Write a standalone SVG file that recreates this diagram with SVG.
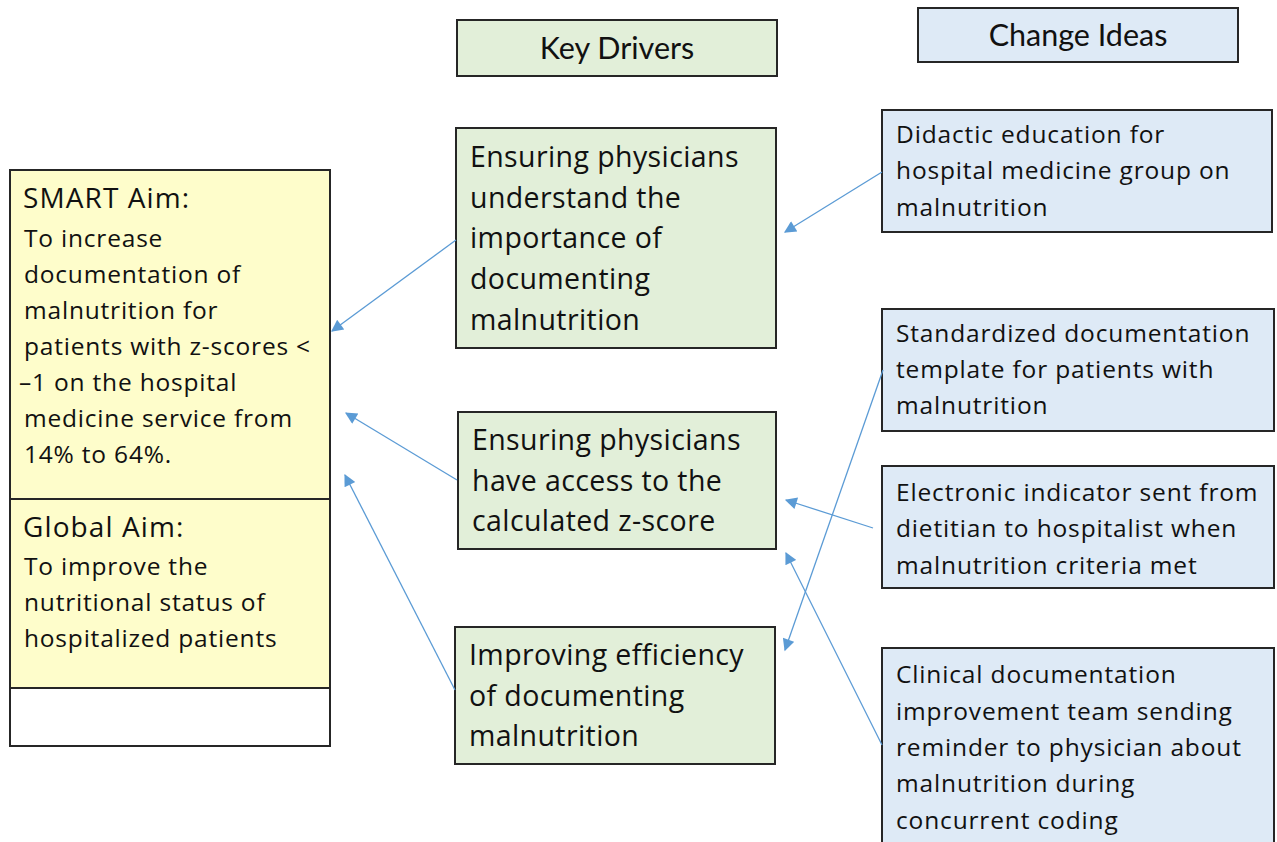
<svg xmlns="http://www.w3.org/2000/svg" width="1277" height="842" viewBox="0 0 1277 842">
<style>
.box{stroke:#262626;stroke-width:2}
.yel{fill:#fefdcb}
.grn{fill:#e2efd9}
.blu{fill:#deeaf6}
.t{font-family:"Open Sans","Noto Sans",sans-serif;fill:#111}
.s{font-size:24.5px;letter-spacing:0.8px}
.d{font-size:28.5px;letter-spacing:0.4px}
.c{font-size:24.5px;letter-spacing:0.85px}
.ti{font-size:28px;letter-spacing:1.1px}
.h{font-family:Lato,"Open Sans",sans-serif;font-size:30.5px;fill:#111;text-anchor:middle}
.ln{stroke:#5b9bd5;stroke-width:1.3;fill:none;marker-end:url(#ah)}
</style>
<defs>
<marker id="ah" viewBox="0 0 10 10" refX="9" refY="5" markerWidth="14" markerHeight="12" markerUnits="userSpaceOnUse" orient="auto">
<path d="M0,0 L10,5 L0,10 Z" fill="#5b9bd5"/>
</marker>
</defs>
<rect width="1277" height="842" fill="#fff"/>
<g id="hdr-drivers">
<rect class="box grn" x="457" y="20" width="320" height="56"/>
<text class="h" x="617" y="59">Key Drivers</text>
</g>
<g id="hdr-ideas">
<rect class="box blu" x="918" y="8" width="320" height="54"/>
<text class="h" x="1078" y="46">Change Ideas</text>
</g>
<g id="aim">
<rect class="box yel" x="10" y="170" width="320" height="329"/>
<rect class="box yel" x="10" y="499" width="320" height="189"/>
<rect class="box" x="10" y="688" width="320" height="58" fill="#fff"/>
<text class="t ti" x="23" y="208">SMART Aim:</text>
<text class="t s"><tspan x="24" y="247">To increase</tspan><tspan x="24" y="283">documentation of</tspan><tspan x="24" y="319">malnutrition for</tspan><tspan x="24" y="355">patients with z-scores &lt;</tspan><tspan x="19" y="391">–1 on the hospital</tspan><tspan x="24" y="427">medicine service from</tspan><tspan x="24" y="463">14% to 64%.</tspan></text>
<text class="t ti" x="23" y="537">Global Aim:</text>
<text class="t s"><tspan x="24" y="575">To improve the</tspan><tspan x="24" y="611">nutritional status of</tspan><tspan x="24" y="647">hospitalized patients</tspan></text>
</g>
<g id="driver1">
<rect class="box grn" x="456" y="128" width="320" height="220"/>
<text class="t d"><tspan x="470" y="167">Ensuring physicians</tspan><tspan x="470" y="208">understand the</tspan><tspan x="470" y="248">importance of</tspan><tspan x="470" y="289">documenting</tspan><tspan x="470" y="330">malnutrition</tspan></text>
</g>
<g id="driver2">
<rect class="box grn" x="458" y="412" width="318" height="137"/>
<text class="t d"><tspan x="472" y="450">Ensuring physicians</tspan><tspan x="472" y="491">have access to the</tspan><tspan x="472" y="531">calculated z-score</tspan></text>
</g>
<g id="driver3">
<rect class="box grn" x="455" y="627" width="320" height="137"/>
<text class="t d"><tspan x="469" y="665">Improving efficiency</tspan><tspan x="469" y="706">of documenting</tspan><tspan x="469" y="746">malnutrition</tspan></text>
</g>
<g id="idea1">
<rect class="box blu" x="882" y="110" width="390" height="122"/>
<text class="t c"><tspan x="896" y="143">Didactic education for</tspan><tspan x="896" y="179">hospital medicine group on</tspan><tspan x="896" y="216">malnutrition</tspan></text>
</g>
<g id="idea2">
<rect class="box blu" x="882" y="309" width="392" height="122"/>
<text class="t c"><tspan x="896" y="342">Standardized documentation</tspan><tspan x="896" y="378">template for patients with</tspan><tspan x="896" y="414">malnutrition</tspan></text>
</g>
<g id="idea3">
<rect class="box blu" x="882" y="466" width="392" height="122"/>
<text class="t c"><tspan x="896" y="501">Electronic indicator sent from</tspan><tspan x="896" y="537">dietitian to hospitalist when</tspan><tspan x="896" y="574">malnutrition criteria met</tspan></text>
</g>
<g id="idea4">
<rect class="box blu" x="882" y="648" width="392" height="210"/>
<text class="t c"><tspan x="896" y="683">Clinical documentation</tspan><tspan x="896" y="720">improvement team sending</tspan><tspan x="896" y="756">reminder to physician about</tspan><tspan x="896" y="792">malnutrition during</tspan><tspan x="896" y="829">concurrent coding</tspan></text>
</g>
<g id="connectors">
<line class="ln" x1="456" y1="240" x2="332" y2="331"/>
<line class="ln" x1="457" y1="480" x2="346" y2="413"/>
<line class="ln" x1="455" y1="690" x2="345" y2="475"/>
<line class="ln" x1="882" y1="172" x2="785" y2="232"/>
<line class="ln" x1="883" y1="370" x2="785" y2="650"/>
<line class="ln" x1="873" y1="528" x2="786" y2="500"/>
<line class="ln" x1="882" y1="745" x2="786" y2="553"/>
</g>
</svg>
